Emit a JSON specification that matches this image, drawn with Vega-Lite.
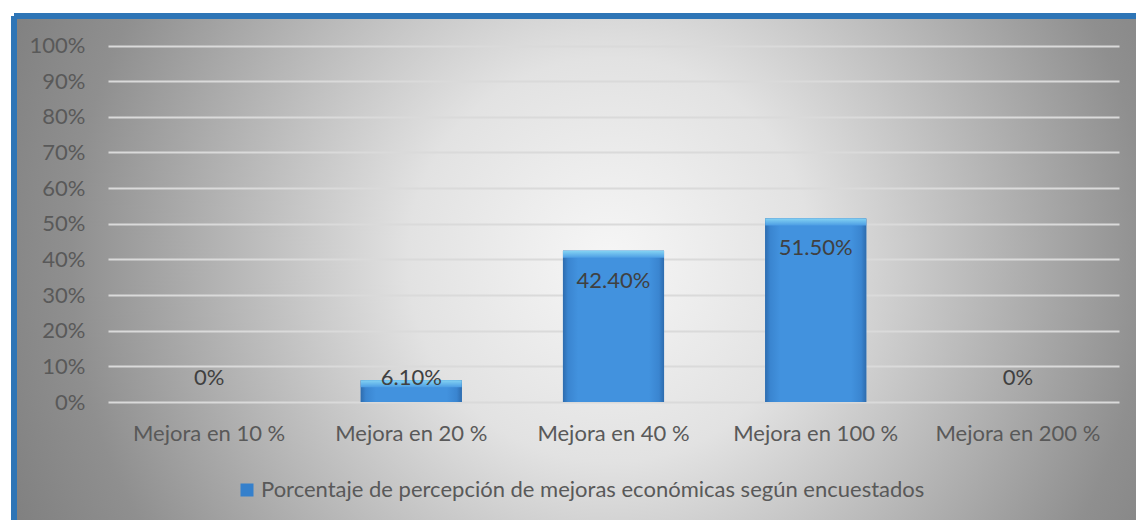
{
  "$schema": "https://vega.github.io/schema/vega-lite/v6.json",
  "width": 1122,
  "height": 504,
  "autosize": "none",
  "padding": {"left": 14, "top": 16, "right": 0, "bottom": 0},
  "background": "white",
  "config": {
    "view": {
      "stroke": "#2e75b6",
      "strokeWidth": 6,
      "strokeDash": [1122, 1626, 504, 0],
      "fill": {
        "gradient": "radial",
        "x1": 0.531, "y1": 0.493, "x2": 0.531, "y2": 0.493,
        "r1": 0, "r2": 0.6,
        "stops": [
          {"offset": 0, "color": "#f6f6f6"},
          {"offset": 0.3, "color": "#e2e2e2"},
          {"offset": 0.8, "color": "#8f8f8f"},
          {"offset": 1, "color": "#7d7d7d"}
        ]
      }
    },
    "font": "Lato"
  },
  "data": {
    "values": [
      {"categoria": "Mejora en 10 %", "valor": 0, "etiqueta": "0%", "serie": "Porcentaje de percepción de mejoras económicas según encuestados"},
      {"categoria": "Mejora en 20 %", "valor": 0.061, "etiqueta": "6.10%", "serie": "Porcentaje de percepción de mejoras económicas según encuestados"},
      {"categoria": "Mejora en 40 %", "valor": 0.424, "etiqueta": "42.40%", "serie": "Porcentaje de percepción de mejoras económicas según encuestados"},
      {"categoria": "Mejora en 100 %", "valor": 0.515, "etiqueta": "51.50%", "serie": "Porcentaje de percepción de mejoras económicas según encuestados"},
      {"categoria": "Mejora en 200 %", "valor": 0, "etiqueta": "0%", "serie": "Porcentaje de percepción de mejoras económicas según encuestados"}
    ]
  },
  "encoding": {
    "x": {
      "field": "categoria",
      "type": "nominal",
      "sort": null,
      "scale": {"range": [94, 1105], "paddingInner": 0.5, "paddingOuter": 0.25},
      "axis": {
        "title": null,
        "orient": "bottom",
        "offset": -118,
        "domain": false,
        "ticks": false,
        "tickSize": 0,
        "grid": false,
        "labelAngle": 0,
        "labelPadding": 31,
        "labelBaseline": "middle",
        "labelFont": "Lato",
        "labelFontSize": 22,
        "labelColor": "#595959"
      }
    },
    "y": {
      "field": "valor",
      "type": "quantitative",
      "scale": {"domain": [0, 1], "range": [386, 29.5], "nice": false, "zero": true},
      "axis": {
        "title": null,
        "offset": -71,
        "domain": false,
        "ticks": false,
        "tickSize": 0,
        "labelPadding": 0,
        "values": [0, 0.1, 0.2, 0.3, 0.4, 0.5, 0.6, 0.7, 0.8, 0.9, 1],
        "format": ".0%",
        "labelFont": "Lato",
        "labelFontSize": 22,
        "labelColor": "#595959",
        "grid": true,
        "gridColor": "#dadada",
        "gridWidth": 2
      }
    }
  },
  "layer": [
    {
      "mark": {"type": "bar"},
      "encoding": {
        "color": {
          "field": "serie",
          "type": "nominal",
          "scale": {"range": ["#3580cc"]},
          "legend": {
            "orient": "none",
            "legendX": 222,
            "legendY": 463,
            "direction": "horizontal",
            "title": null,
            "symbolType": "square",
            "symbolSize": 169,
            "symbolStrokeWidth": 0,
            "labelFont": "Lato",
            "labelFontSize": 22,
            "labelColor": "#595959",
            "labelOffset": 3,
            "labelLimit": 1000,
            "padding": 0
          }
        }
      }
    },
    {
      "mark": {
        "type": "bar",
        "color": {
          "gradient": "linear",
          "x1": 0, "y1": 0, "x2": 1, "y2": 0,
          "stops": [
            {"offset": 0, "color": "#2e6cae"},
            {"offset": 0.05, "color": "#3a85d0"},
            {"offset": 0.15, "color": "#4292de"},
            {"offset": 0.85, "color": "#4292de"},
            {"offset": 0.95, "color": "#3a85d0"},
            {"offset": 1, "color": "#2e6cae"}
          ]
        }
      }
    },
    {
      "transform": [{"filter": "datum.valor > 0"}],
      "mark": {
        "type": "tick",
        "orient": "horizontal",
        "thickness": 7,
        "size": 101,
        "yOffset": 3.5,
        "opacity": 1,
        "color": {
          "gradient": "linear",
          "x1": 0, "y1": 0, "x2": 0, "y2": 1,
          "stops": [
            {"offset": 0, "color": "#84d3f3"},
            {"offset": 1, "color": "#4c9de4"}
          ]
        }
      }
    },
    {
      "transform": [{"filter": "datum.valor >= 0.1"}],
      "mark": {"type": "text", "dy": 30, "fontSize": 22, "font": "Lato", "color": "#404040", "align": "center", "baseline": "middle"},
      "encoding": {"text": {"field": "etiqueta"}}
    },
    {
      "transform": [{"filter": "datum.valor < 0.1"}],
      "mark": {"type": "text", "dy": -24, "fontSize": 22, "font": "Lato", "color": "#404040", "align": "center", "baseline": "middle"},
      "encoding": {"y": {"datum": 0}, "text": {"field": "etiqueta"}}
    }
  ]
}
